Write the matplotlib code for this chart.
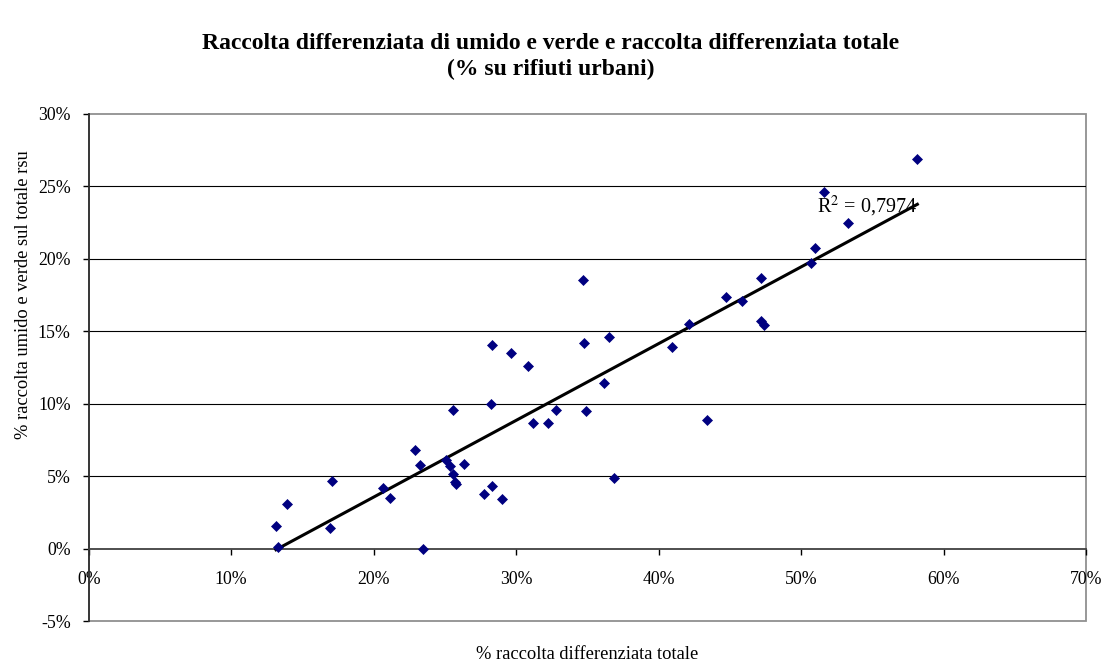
import numpy as np
import matplotlib
matplotlib.use("Agg")
import matplotlib.pyplot as plt
from matplotlib.patches import Rectangle
from matplotlib.ticker import FuncFormatter, MultipleLocator

plt.rcParams['font.family'] = ['Liberation Serif', 'DejaVu Serif']
plt.rcParams['mathtext.fontset'] = 'stix'

# % raccolta differenziata totale
x_tot = [13.14, 13.91, 13.28, 17.08, 16.96, 20.66, 21.17, 22.88, 23.26, 23.49,
         25.06, 25.39, 25.55, 25.58, 25.69, 25.81, 26.33, 27.73, 28.25, 28.27,
         28.34, 28.99, 29.63, 30.85, 31.15, 32.23, 32.82, 34.69, 34.79, 34.93,
         36.19, 36.49, 36.85, 40.94, 42.10, 43.40, 44.76, 45.84, 47.20, 47.20,
         47.43, 50.69, 50.97, 51.62, 53.31, 58.16]
# % raccolta umido e verde sul totale rsu
y_umido = [1.57, 3.11, 0.09, 4.65, 1.40, 4.22, 3.48, 6.84, 5.81, 0.00,
           6.13, 5.74, 9.58, 5.14, 4.58, 4.45, 5.83, 3.76, 10.00, 14.05,
           4.31, 3.41, 13.50, 12.62, 8.68, 8.68, 9.58, 18.52, 14.21, 9.47,
           11.43, 14.63, 4.88, 13.91, 15.50, 8.89, 17.37, 17.09, 18.70, 15.73,
           15.43, 19.70, 20.75, 24.62, 22.48, 26.88]

r2_label = r"R$^{2}$ = 0,7974"
title = ("Raccolta differenziata di umido e verde e raccolta differenziata totale\n"
         "(% su rifiuti urbani)")
xlabel = "% raccolta differenziata totale"
ylabel = "% raccolta umido e verde sul totale rsu"

x = np.array(x_tot) / 100.0
y = np.array(y_umido) / 100.0

fig = plt.figure(figsize=(11.01, 6.62), dpi=100)
ax = fig.add_axes([0.0806, 0.0615, 0.9058, 0.7667])

ax.set_xlim(0, 0.70)
ax.set_ylim(-0.05, 0.30)
ax.xaxis.set_major_locator(MultipleLocator(0.10))
ax.yaxis.set_major_locator(MultipleLocator(0.05))
pct = FuncFormatter(lambda v, p: f"{v*100:.0f}%")
ax.xaxis.set_major_formatter(pct)
ax.yaxis.set_major_formatter(pct)

# gridlines
for gy in np.arange(0.05, 0.30, 0.05):
    ax.axhline(gy, color='black', lw=0.8, zorder=1)

# trendline
m, b = np.polyfit(x, y, 1)
xs = np.array([x.min(), x.max()])
ax.plot(xs, m * xs + b, color='black', lw=2.2, zorder=3)

ax.plot(x, y, linestyle='none', marker='D', markersize=5.0,
        markerfacecolor='#000080', markeredgecolor='#000080',
        markeredgewidth=0.5, zorder=4)

ax.text(0.5115, 0.2315, r2_label, fontsize=14.5, ha='left', va='baseline', zorder=5)

# spines
ax.spines['bottom'].set_position(('data', 0))
ax.spines['bottom'].set_color('#404040')
ax.spines['bottom'].set_linewidth(1.3)
ax.spines['left'].set_color('#303030')
ax.spines['left'].set_linewidth(1.3)
ax.spines['top'].set_visible(False)
ax.spines['right'].set_visible(False)
ax.add_patch(Rectangle((0, 0), 1, 1, transform=ax.transAxes, fill=False,
                       edgecolor='#909090', lw=1.3, clip_on=False, zorder=0))

ax.tick_params(axis='both', direction='out', length=4, width=1, colors='black',
               labelsize=12.8)
ax.tick_params(axis='x', pad=12)
ax.tick_params(axis='y', pad=9)

fig.text(0.5, 0.9145, title, ha='center', va='center', fontsize=17,
         fontweight='bold', linespacing=1.3)
fig.text(0.533, 0.0106, xlabel, ha='center', va='center', fontsize=13.3)
fig.text(0.021, 0.555, ylabel, ha='center', va='center', rotation=90, fontsize=13.3)

fig.savefig("out.png", dpi=100)
